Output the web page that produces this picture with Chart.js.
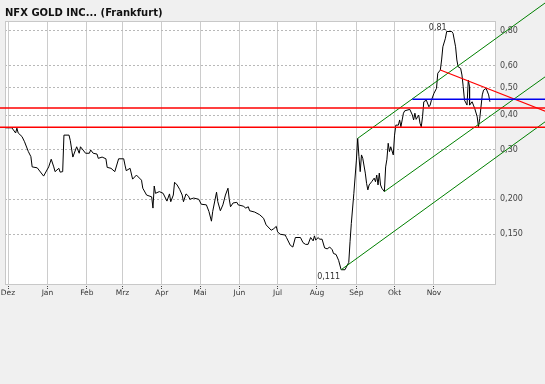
<!DOCTYPE html>
<html><head><meta charset="utf-8">
<script src="https://cdn.jsdelivr.net/npm/chart.js@4"></script>
<style>html,body{margin:0;padding:0;background:#f0f0f0;} #wrap{width:545px;height:384px;}</style>
</head><body><div id="wrap"><canvas id="c" width="545" height="384"></canvas></div>
<script>
const titleText = 'NFX GOLD INC... (Frankfurt)';
// x values are days counted from 1 Dec
const monthDays = [0,31,62,90,121,151,182,212,243,274,304,335];
const monthLabels = ['Dez','Jan','Feb','Mrz','Apr','Mai','Jun','Jul','Aug','Sep','Okt','Nov'];
const yTicks = [0.15,0.2,0.3,0.4,0.5,0.6,0.8];
const yTickLabels = ['0,150','0,200','0,30','0,40','0,50','0,60','0,80'];

const days = [-2,3,6,7,8,11,13,16,18,19,23,28,32,34,36,37,40,41,43,44,48,49,51,54,56,57,61,64,65,67,70,71,74,77,78,81,84,87,91,92,93,96,98,101,105,106,109,113,114,115,116,119,122,125,127,128,130,131,133,135,137,138,140,142,143,146,150,152,156,158,160,161,164,165,167,169,171,173,174,175,177,180,181,185,187,189,190,194,198,201,203,207,209,211,212,214,218,219,222,224,226,230,232,234,236,238,240,241,242,244,245,247,249,251,253,255,256,258,260,262,265,268,269,270,272,274,275,276,277,278,279,281,282,283,284,286,288,289,290,291,292,293,294,296,297,298,299,300,301,303,304,305,307,308,309,310,311,312,316,318,319,320,321,323,324,325,326,327,329,331,332,333,335,337,338,340,341,342,344,345,349,350,352,353,354,356,357,358,359,361,362,363,363,365,366,367,369,370,371,373,374,376,378,379];
const prices = [0.360,0.360,0.345,0.359,0.345,0.335,0.321,0.296,0.284,0.261,
0.259,0.242,0.261,0.278,0.261,0.251,0.258,0.250,0.251,0.339,
0.339,0.324,0.283,0.308,0.292,0.308,0.292,0.292,0.300,0.292,
0.290,0.280,0.283,0.279,0.260,0.258,0.251,0.279,0.279,0.265,
0.253,0.258,0.236,0.244,0.234,0.219,0.207,0.204,0.186,0.223,
0.210,0.213,0.210,0.197,0.209,0.196,0.207,0.230,0.225,0.217,
0.207,0.196,0.209,0.205,0.200,0.202,0.200,0.192,0.191,0.181,
0.167,0.181,0.212,0.196,0.182,0.191,0.207,0.219,0.200,0.188,
0.194,0.195,0.191,0.189,0.186,0.188,0.182,0.180,0.176,0.171,
0.162,0.155,0.157,0.160,0.153,0.150,0.149,0.146,0.137,0.135,
0.146,0.146,0.140,0.138,0.138,0.146,0.142,0.148,0.143,0.146,
0.144,0.144,0.134,0.133,0.135,0.132,0.128,0.127,0.121,0.112,
0.112,0.119,0.141,0.164,0.210,0.276,0.330,0.284,0.251,0.288,
0.280,0.248,0.228,0.216,0.225,0.231,0.238,0.231,0.244,0.225,
0.248,0.225,0.219,0.213,0.261,0.278,0.317,0.296,0.308,0.288,
0.339,0.368,0.368,0.384,0.363,0.384,0.406,0.414,0.419,0.400,
0.384,0.406,0.386,0.400,0.374,0.363,0.394,0.446,0.452,0.428,
0.434,0.452,0.478,0.498,0.564,0.579,0.629,0.701,0.752,0.795,
0.795,0.783,0.701,0.629,0.595,0.587,0.556,0.505,0.452,0.434,
0.533,0.505,0.434,0.446,0.434,0.423,0.394,0.363,0.389,0.472,
0.491,0.498,0.472,0.446];

// drawing-tool lines
const hLineDays = [-7, 423];
const redUpper = [0.424, 0.424];
const redLower = [0.362, 0.362];
const blueDays = [318, 423];
const bluePrices = [0.455, 0.455];
const trendDays = [340, 423];
const trendPrices = [0.579, 0.412];
const chan1Days = [275, 423], chan1Prices = [0.330, 1.01];
const chan2Days = [296, 423], chan2Prices = [0.213, 0.550];
const chan3Days = [262, 423], chan3Prices = [0.112, 0.380];
// extreme labels
const extremeDays = [345, 262];
const extremePrices = [0.795, 0.112];
const extremeLabels = ['0,81', '0,111'];

const mk = (xs, ys) => xs.map((x, i) => ({x: x, y: ys[i]}));

const bgPlugin = {
  id: 'bg',
  beforeDraw(chart) {
    const {ctx, chartArea: a} = chart;
    ctx.save();
    ctx.fillStyle = '#f0f0f0';
    ctx.fillRect(0, 0, chart.width, chart.height);
    ctx.fillStyle = '#ffffff';
    ctx.fillRect(a.left, a.top, a.right - a.left, a.bottom - a.top);
    ctx.restore();
  },
  beforeDatasetsDraw(chart) {
    const {ctx, chartArea: a} = chart;
    ctx.save();
    ctx.strokeStyle = '#c8c8c8';
    ctx.lineWidth = 1;
    ctx.strokeRect(a.left + 0.5, a.top + 0.5, a.right - a.left, a.bottom - a.top);
    ctx.restore();
  },
  afterDatasetsDraw(chart) {
    const {ctx} = chart;
    const xs = chart.scales.x, ys = chart.scales.y;
    ctx.save();
    ctx.font = '8px "DejaVu Sans"';
    ctx.fillStyle = '#333';
    ctx.textAlign = 'right';
    ctx.textBaseline = 'alphabetic';
    let px = xs.getPixelForValue(extremeDays[0]), py = ys.getPixelForValue(extremePrices[0]);
    ctx.fillText(extremeLabels[0], px, py - 2);
    px = xs.getPixelForValue(extremeDays[1]); py = ys.getPixelForValue(extremePrices[1]);
    ctx.fillText(extremeLabels[1], px - 1, py + 9);
    ctx.restore();
  }
};

new Chart(document.getElementById('c'), {
  type: 'line',
  data: { datasets: [
    {data: mk(hLineDays, redUpper), borderColor: '#ff0000', borderWidth: 1.5, clip: false},
    {data: mk(hLineDays, redLower), borderColor: '#ff0000', borderWidth: 1.5, clip: false},
    {data: mk(blueDays, bluePrices), borderColor: '#0000ee', borderWidth: 1.5, clip: false},
    {data: mk(trendDays, trendPrices), borderColor: '#ff0000', borderWidth: 1.2, clip: false},
    {data: mk(chan1Days, chan1Prices), borderColor: '#008000', borderWidth: 1, clip: false},
    {data: mk(chan2Days, chan2Prices), borderColor: '#008000', borderWidth: 1, clip: false},
    {data: mk(chan3Days, chan3Prices), borderColor: '#008000', borderWidth: 1, clip: false},
    {data: mk(days, prices), borderColor: '#000000', borderWidth: 1}
  ]},
  options: {
    responsive: false,
    animation: false,
    devicePixelRatio: 1,
    elements: {point: {radius: 0}, line: {tension: 0, fill: false}},
    layout: {padding: {left: 5, top: 0, right: 0, bottom: 0}},
    plugins: {
      legend: {display: false},
      tooltip: {enabled: false},
      title: {
        display: true, text: titleText, align: 'start', color: '#111',
        font: {family: 'DejaVu Sans', size: 10, weight: 'bold', lineHeight: 1.2},
        padding: {top: 7, bottom: 2}
      }
    },
    scales: {
      x: {
        type: 'linear', bounds: 'data', min: -2.36, max: 383,
        afterBuildTicks: s => { s.ticks = monthDays.map(v => ({value: v})); },
        afterFit: s => { s.height = 100; },
        grid: {color: '#cccccc', lineWidth: 1, drawTicks: true, tickLength: 5, tickColor: '#444', tickWidth: 1, tickBorderDash: [1, 1]},
        border: {display: false},
        ticks: {autoSkip: false, maxRotation: 0, padding: 0, color: '#333',
          font: {family: 'DejaVu Sans', size: 7.5},
          callback: (v, i) => monthLabels[i]}
      },
      y: {
        type: 'logarithmic', position: 'right', bounds: 'data', min: 0.0996, max: 0.8668,
        afterBuildTicks: s => { s.ticks = yTicks.map(v => ({value: v})); },
        afterFit: s => { s.width = 50; },
        grid: {color: '#b8b8b8', lineWidth: 1, drawTicks: false},
        border: {display: false, dash: [2, 2]},
        ticks: {padding: 5, color: '#444', font: {family: 'DejaVu Sans', size: 8},
          callback: (v, i) => yTickLabels[i]}
      }
    }
  },
  plugins: [bgPlugin]
});
</script>
</body></html>
